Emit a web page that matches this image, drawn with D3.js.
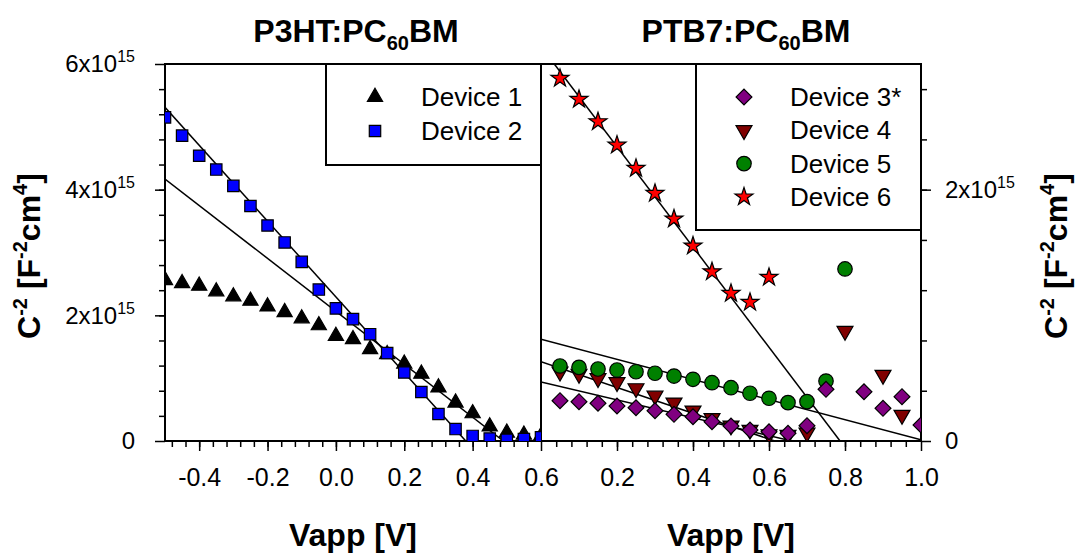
<!DOCTYPE html>
<html>
<head>
<meta charset="utf-8">
<script src="https://cdn.jsdelivr.net/npm/d3@7"></script>
<style>
  body { margin: 0; background: #fff; }
  svg { display: block; font-family: "Liberation Sans", Arial, sans-serif; }
</style>
</head>
<body>
<svg width="1075" height="555"></svg>
<script>
// ---- data (C^-2 in units of 1e15 F^-2 cm^4) ----
const p3htX = [-0.5, -0.45, -0.4, -0.35, -0.3, -0.25, -0.2, -0.15, -0.1, -0.05, 0.0, 0.05,
  0.1, 0.15, 0.2, 0.25, 0.3, 0.35, 0.4, 0.45, 0.5, 0.55, 0.6];
const device1 = [2.56, 2.51, 2.47, 2.38, 2.30, 2.23, 2.14, 2.05, 1.95, 1.84, 1.67, 1.62,
  1.46, 1.38, 1.23, 1.07, 0.85, 0.61, 0.44, 0.23, 0.13, 0.10, 0.08];
const device2 = [5.15, 4.86, 4.54, 4.32, 4.06, 3.74, 3.43, 3.16, 2.85, 2.41, 2.11, 1.94,
  1.70, 1.40, 1.09, 0.78, 0.43, 0.19, 0.08, 0.04, 0.02, 0.03, 0.06];

const device3X = [0.05, 0.1, 0.15, 0.2, 0.25, 0.3, 0.35, 0.4, 0.45, 0.5, 0.55, 0.6, 0.65, 0.7, 0.75, 0.85, 0.9, 0.95, 1.0];
const device3 = [0.321, 0.313, 0.300, 0.279, 0.265, 0.241, 0.212, 0.193, 0.154, 0.119, 0.088, 0.074, 0.061, 0.122, 0.411, 0.392, 0.260, 0.353, 0.127];
const device4X = [0.05, 0.1, 0.15, 0.2, 0.25, 0.3, 0.35, 0.4, 0.45, 0.5, 0.55, 0.6, 0.65, 0.7, 0.8, 0.9, 0.95];
const device4 = [0.551, 0.533, 0.499, 0.467, 0.419, 0.360, 0.305, 0.241, 0.181, 0.122, 0.088, 0.053, 0.048, 0.066, 0.875, 0.525, 0.207];
const device5X = [0.05, 0.1, 0.15, 0.2, 0.25, 0.3, 0.35, 0.4, 0.45, 0.5, 0.55, 0.6, 0.65, 0.7, 0.75, 0.8];
const device5 = [0.597, 0.586, 0.573, 0.565, 0.551, 0.539, 0.517, 0.491, 0.464, 0.424, 0.380, 0.340, 0.305, 0.313, 0.477, 1.369];
const device6X = [0.05, 0.1, 0.15, 0.2, 0.25, 0.3, 0.35, 0.4, 0.45, 0.5, 0.55, 0.6];
const device6 = [2.886, 2.719, 2.541, 2.355, 2.170, 1.971, 1.767, 1.552, 1.347, 1.175, 1.104, 1.303];

// linear fits, end points [x, y]
const fitsP3ht = [[[-0.5, 5.31], [0.38, 0]], [[-0.5, 4.17], [0.49, 0]]];
const fitsPtb7 = [[[0.035, 3.0], [0.787, 0]], [[0, 0.81], [1.0, 0.01]], [[0, 0.63], [0.615, 0]], [[0, 0.47], [0.66, 0]]];

const xTicksLeft = [-0.4, -0.2, 0.0, 0.2, 0.4, 0.6];
const xTicksRight = [0.2, 0.4, 0.6, 0.8, 1.0];
const yTicksLeft = [0, 2, 4, 6];
const yTicksRight = [0, 2];

const svg = d3.select('svg');
const plotTop = 64, plotBottom = 441;

const xL = d3.scaleLinear().domain([-0.5, 0.6]).range([165, 541]);
const yL = d3.scaleLinear().domain([0, 6]).range([plotBottom, plotTop]);
const xR = d3.scaleLinear().domain([0, 1.0]).range([541, 921]);
const yR = d3.scaleLinear().domain([0, 3]).range([plotBottom, plotTop]);

// plain hyphen minus, like the original
const fmtX = d => d3.format('.1f')(d).replace('\u2212', '-');

// clip paths
const defs = svg.append('defs');
defs.append('clipPath').attr('id', 'clipL').append('rect')
  .attr('x', 165).attr('y', plotTop).attr('width', 376).attr('height', plotBottom - plotTop);
defs.append('clipPath').attr('id', 'clipR').append('rect')
  .attr('x', 541).attr('y', plotTop).attr('width', 380).attr('height', plotBottom - plotTop);

// ---- axes ----
function styleAxis(g, size) {
  g.select('.domain').remove();
  g.selectAll('.tick line').attr('stroke', '#000').attr('stroke-width', 1.5);
  g.selectAll('.tick text').attr('fill', '#000').attr('font-size', size || 25)
    .attr('font-family', '"Liberation Sans", Arial, sans-serif');
}
function sciLabels(g) {
  g.selectAll('.tick text').each(function (d) {
    const t = d3.select(this);
    t.text(null);
    if (d === 0) { t.text('0'); return; }
    t.append('tspan').text(d + 'x10');
    t.append('tspan').attr('font-size', 16).attr('dy', -10).text('15');
  });
}

// bottom, left panel
svg.append('g').attr('transform', `translate(0,${plotBottom})`)
  .call(d3.axisBottom(xL).tickValues(d3.range(-0.48, 0.6, 0.04)).tickSize(6).tickFormat(''))
  .call(styleAxis);
svg.append('g').attr('transform', `translate(0,${plotBottom})`)
  .call(d3.axisBottom(xL).tickValues(xTicksLeft).tickSize(10).tickPadding(17).tickFormat(fmtX))
  .call(styleAxis);
// bottom, right panel
svg.append('g').attr('transform', `translate(0,${plotBottom})`)
  .call(d3.axisBottom(xR).tickValues(d3.range(0.04, 0.99, 0.04)).tickSize(6).tickFormat(''))
  .call(styleAxis);
svg.append('g').attr('transform', `translate(0,${plotBottom})`)
  .call(d3.axisBottom(xR).tickValues(xTicksRight).tickSize(10).tickPadding(17).tickFormat(fmtX))
  .call(styleAxis);
// left y
svg.append('g').attr('transform', 'translate(165,0)')
  .call(d3.axisLeft(yL).tickValues(d3.range(0.4, 6, 0.4)).tickSize(6).tickFormat(''))
  .call(styleAxis);
svg.append('g').attr('transform', 'translate(165,0)')
  .call(d3.axisLeft(yL).tickValues(yTicksLeft).tickSize(10).tickPadding(20))
  .call(styleAxis, 24).call(sciLabels);
// right y
svg.append('g').attr('transform', 'translate(921,0)')
  .call(d3.axisRight(yR).tickValues(d3.range(0.4, 3, 0.4)).tickSize(6).tickFormat(''))
  .call(styleAxis);
svg.append('g').attr('transform', 'translate(921,0)')
  .call(d3.axisRight(yR).tickValues(yTicksRight).tickSize(10).tickPadding(14))
  .call(styleAxis, 24).call(sciLabels);

// frames
svg.append('rect').attr('x', 165).attr('y', plotTop).attr('width', 376).attr('height', plotBottom - plotTop)
  .attr('fill', 'none').attr('stroke', '#000').attr('stroke-width', 2);
svg.append('rect').attr('x', 541).attr('y', plotTop).attr('width', 380).attr('height', plotBottom - plotTop)
  .attr('fill', 'none').attr('stroke', '#000').attr('stroke-width', 2);

// ---- marker shapes ----
const sym = {
  triUp: d3.symbol().type(d3.symbolTriangle).size(100)(),
  square: d3.symbol().type(d3.symbolSquare).size(130)(),
  diamond: d3.symbol().type(d3.symbolSquare).size(125)(),
  triDown: d3.symbol().type(d3.symbolTriangle).size(110)(),
  circle: d3.symbol().type(d3.symbolCircle).size(165)(),
  star: d3.symbol().type(d3.symbolStar).size(100)()
};
const rot = { diamond: 45, triDown: 180 };

function drawSeries(g, xs, ys, xScale, yScale, shape, fill) {
  g.selectAll(null).data(xs).enter().append('path')
    .attr('d', sym[shape])
    .attr('transform', (d, i) => `translate(${xScale(d)},${yScale(ys[i])}) rotate(${rot[shape] || 0})`)
    .attr('fill', fill).attr('stroke', '#000').attr('stroke-width', 1.2);
}
function drawFit(g, pts, xScale, yScale) {
  g.append('path').datum(pts)
    .attr('d', d3.line().x(d => xScale(d[0])).y(d => yScale(d[1])))
    .attr('fill', 'none').attr('stroke', '#000').attr('stroke-width', 1.5);
}

// left panel
const gL = svg.append('g').attr('clip-path', 'url(#clipL)');
fitsP3ht.forEach(f => drawFit(gL, f, xL, yL));
drawSeries(gL, p3htX, device1, xL, yL, 'triUp', '#000');
drawSeries(gL, p3htX, device2, xL, yL, 'square', '#0000ff');

// right panel
const gR = svg.append('g').attr('clip-path', 'url(#clipR)');
fitsPtb7.forEach(f => drawFit(gR, f, xR, yR));
drawSeries(gR, device4X, device4, xR, yR, 'triDown', '#800000');
drawSeries(gR, device5X, device5, xR, yR, 'circle', '#008000');
drawSeries(gR, device3X, device3, xR, yR, 'diamond', '#800080');
drawSeries(gR, device6X, device6, xR, yR, 'star', '#ff0000');

// ---- legends ----
function legend(x, y, w, h, items, mx, tx, y0, dy) {
  const g = svg.append('g');
  g.append('rect').attr('x', x).attr('y', y).attr('width', w).attr('height', h)
    .attr('fill', '#fff').attr('stroke', '#000').attr('stroke-width', 2);
  items.forEach((it, i) => {
    const cy = y0 + i * dy;
    g.append('path').attr('d', sym[it.shape])
      .attr('transform', `translate(${mx},${cy}) rotate(${rot[it.shape] || 0})`)
      .attr('fill', it.fill).attr('stroke', '#000').attr('stroke-width', 1.2);
    g.append('text').attr('x', tx).attr('y', cy + 9).attr('font-size', 26).text(it.name);
  });
}
legend(326, plotTop, 215, 101, [
  { name: 'Device 1', shape: 'triUp', fill: '#000' },
  { name: 'Device 2', shape: 'square', fill: '#0000ff' }
], 375, 421, 97, 34);
legend(696, plotTop, 225, 166, [
  { name: 'Device 3*', shape: 'diamond', fill: '#800080' },
  { name: 'Device 4', shape: 'triDown', fill: '#800000' },
  { name: 'Device 5', shape: 'circle', fill: '#008000' },
  { name: 'Device 6', shape: 'star', fill: '#ff0000' }
], 744, 790, 97, 33.3);

// ---- titles ----
function title(cx, first, last) {
  const t = svg.append('text').attr('x', cx).attr('y', 42).attr('text-anchor', 'middle')
    .attr('font-size', 32).attr('font-weight', 'bold');
  t.append('tspan').text(first);
  t.append('tspan').attr('font-size', 20).attr('dy', 8).text('60');
  t.append('tspan').attr('dy', -8).text(last);
}
title(356, 'P3HT:PC', 'BM');
title(746, 'PTB7:PC', 'BM');

// x labels
[353, 731].forEach(cx => {
  svg.append('text').attr('x', cx).attr('y', 546).attr('text-anchor', 'middle')
    .attr('font-size', 32).attr('font-weight', 'bold').text('Vapp [V]');
});

// y labels
function yLabel(x) {
  const t = svg.append('text').attr('transform', `translate(${x},256) rotate(-90)`)
    .attr('text-anchor', 'middle').attr('font-size', 32).attr('font-weight', 'bold');
  t.append('tspan').text('C');
  t.append('tspan').attr('font-size', 20).attr('dy', -13).text('-2');
  t.append('tspan').attr('dy', 13).text(' [F');
  t.append('tspan').attr('font-size', 20).attr('dy', -13).text('-2');
  t.append('tspan').attr('dy', 13).text('cm');
  t.append('tspan').attr('font-size', 20).attr('dy', -13).text('4');
  t.append('tspan').attr('dy', 13).text(']');
}
yLabel(40);
yLabel(1067);
</script>
</body>
</html>
